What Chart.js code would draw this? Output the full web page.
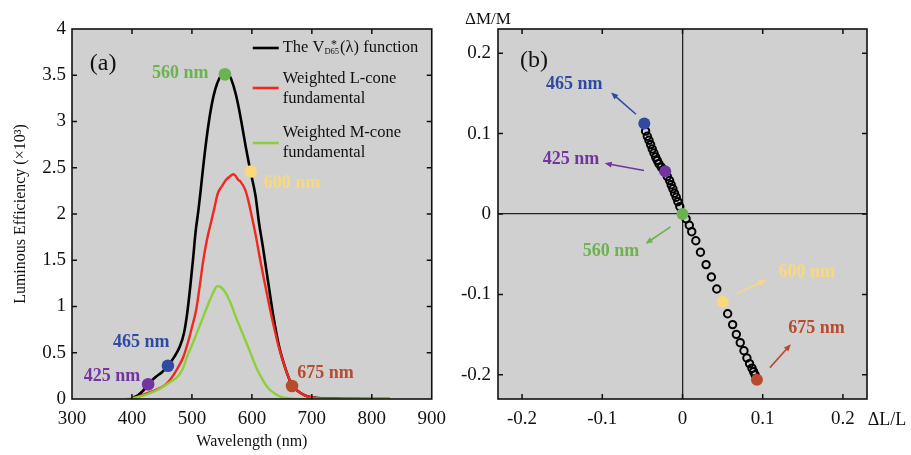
<!DOCTYPE html>
<html>
<head>
<meta charset="utf-8">
<script src="https://cdn.jsdelivr.net/npm/chart.js@4.4.1/dist/chart.umd.min.js"></script>
<style>
html, body { margin: 0; padding: 0; background: #fff; }
#wrap { position: relative; width: 911px; height: 455px; }
#cA { position: absolute; left: 0; top: 0; }
#cB { position: absolute; left: 455px; top: 0; }
</style>
</head>
<body>
<div id="wrap">
<canvas id="cA" width="455" height="455"></canvas>
<canvas id="cB" width="456" height="455"></canvas>
</div>
<script>
// panel (a) curves, wavelength (nm) vs luminous efficiency (x10^3)
const wlBlack = [400, 410, 420, 430, 440, 450, 460, 470, 480, 487, 492, 497, 502, 506, 511, 515, 520, 527, 533, 539, 546, 552, 557, 562, 566, 573, 579, 584, 590, 597, 606, 612, 618, 624, 630, 636, 645, 657, 667, 680, 692, 710, 750, 830];
const vBlack = [0.01, 0.04, 0.10, 0.18, 0.24, 0.29, 0.36, 0.45, 0.57, 0.72, 0.92, 1.2, 1.52, 1.80, 2.05, 2.28, 2.58, 2.94, 3.18, 3.35, 3.47, 3.52, 3.52, 3.50, 3.45, 3.30, 3.12, 2.94, 2.72, 2.48, 2.20, 1.90, 1.66, 1.40, 1.14, 0.89, 0.58, 0.31, 0.15, 0.07, 0.03, 0.01, 0.003, 0];

const wlRed = [405, 420, 440, 455, 465, 475, 486, 495, 501, 507, 513, 519, 525, 530, 537, 543, 550, 557, 564, 569, 573, 577, 581, 589, 595, 600, 607, 614, 620, 625, 633, 645, 657, 667, 680, 692, 710, 750, 830];
const vRed = [0.01, 0.05, 0.10, 0.15, 0.22, 0.32, 0.46, 0.65, 0.80, 0.96, 1.22, 1.50, 1.72, 1.86, 2.05, 2.22, 2.30, 2.37, 2.41, 2.43, 2.41, 2.37, 2.35, 2.26, 2.12, 1.97, 1.75, 1.50, 1.30, 1.14, 0.89, 0.56, 0.31, 0.15, 0.07, 0.03, 0.01, 0.003, 0];

const wlGreen = [390, 400, 420, 440, 454, 465, 476, 485, 492, 500, 508, 519, 530, 537, 542, 548, 557, 565, 573, 580, 587, 600, 608, 617, 627, 638, 650, 660, 700, 830];
const vGreen = [0, 0.01, 0.04, 0.09, 0.14, 0.19, 0.24, 0.33, 0.46, 0.58, 0.71, 0.89, 1.07, 1.17, 1.22, 1.21, 1.14, 1.03, 0.89, 0.78, 0.67, 0.46, 0.33, 0.22, 0.12, 0.06, 0.02, 0.01, 0, 0];

// highlighted wavelengths
const markNames = ['425 nm', '465 nm', '560 nm', '600 nm', '675 nm'];
const markColors = ['#7334a0', '#2f4aa0', '#6bb34f', '#fbd87c', '#b84a2e'];
const markWl = [427, 460, 555, 598, 667];
const markV = [0.16, 0.36, 3.51, 2.46, 0.14];

const xTicksA = [300, 400, 500, 600, 700, 800, 900];
const yTicksA = [0, 0.5, 1, 1.5, 2, 2.5, 3, 3.5, 4];

// panel (b) cone contrasts
const dL = [-0.046, -0.0439, -0.0418, -0.0398, -0.0377, -0.0356, -0.0335, -0.0315, -0.0294, -0.0265, -0.024, -0.019, -0.0161, -0.0141, -0.012, -0.0099, -0.0078, -0.0058, -0.0034, 0.0045, 0.0085, 0.0115, 0.0166, 0.0224, 0.0294, 0.036, 0.0427, 0.0563, 0.0625, 0.0671, 0.072, 0.0766, 0.0803, 0.0836, 0.0866, 0.0886, 0.0905];
const dM = [0.103, 0.0967, 0.0917, 0.0863, 0.0808, 0.0758, 0.0708, 0.0667, 0.0625, 0.0583, 0.055, 0.0467, 0.0417, 0.0363, 0.0313, 0.0258, 0.0208, 0.0154, 0.0092, -0.006, -0.014, -0.022, -0.0333, -0.0475, -0.0629, -0.0783, -0.0933, -0.124, -0.1375, -0.1496, -0.160, -0.170, -0.179, -0.186, -0.1917, -0.196, -0.200];
const markDL = [-0.0215, -0.0476, 0, 0.0501, 0.0928];
const markDM = [0.053, 0.1125, 0, -0.109, -0.206];

const xTicksB = [-0.2, -0.1, 0, 0.1, 0.2];
const yTicksB = [-0.2, -0.1, 0, 0.1, 0.2];

const SERIF = '"Liberation Serif", "Times New Roman", serif';
Chart.defaults.font.family = SERIF;
Chart.defaults.color = '#111';

const pts = (xs, ys) => xs.map((v, i) => ({x: v, y: ys[i]}));
const setTicks = arr => s => { s.ticks = arr.map(v => ({value: v})); };

const frame = {
  id: 'frame',
  beforeDraw(chart) {
    const {ctx, chartArea: a} = chart;
    ctx.save();
    ctx.fillStyle = '#d0d0d0';
    ctx.fillRect(a.left, a.top, a.width, a.height);
    ctx.restore();
  },
  afterDraw(chart, args, opts) {
    const {ctx, chartArea: a, scales: {x, y}} = chart;
    ctx.save();
    ctx.strokeStyle = '#111';
    ctx.lineWidth = 1.5;
    ctx.beginPath();
    x.ticks.forEach(t => {
      const p = x.getPixelForValue(t.value);
      if (p <= a.left + 1 || p >= a.right - 1) return;
      ctx.moveTo(p, a.bottom); ctx.lineTo(p, a.bottom - 5);
      ctx.moveTo(p, a.top); ctx.lineTo(p, a.top + 5);
    });
    y.ticks.forEach(t => {
      const p = y.getPixelForValue(t.value);
      if (p <= a.top + 1 || p >= a.bottom - 1) return;
      ctx.moveTo(a.left, p); ctx.lineTo(a.left + 5, p);
      ctx.moveTo(a.right, p); ctx.lineTo(a.right - 5, p);
    });
    ctx.stroke();
    ctx.lineWidth = 1.6;
    ctx.strokeRect(a.left, a.top, a.width, a.height);

    (opts.arrows || []).forEach(ar => {
      const x1 = x.getPixelForValue(ar.from[0]), y1 = y.getPixelForValue(ar.from[1]);
      const x2 = x.getPixelForValue(ar.to[0]), y2 = y.getPixelForValue(ar.to[1]);
      const ang = Math.atan2(y2 - y1, x2 - x1);
      ctx.strokeStyle = ar.color;
      ctx.fillStyle = ar.color;
      ctx.lineWidth = 1.6;
      ctx.beginPath(); ctx.moveTo(x1, y1); ctx.lineTo(x2 - 4 * Math.cos(ang), y2 - 4 * Math.sin(ang)); ctx.stroke();
      ctx.beginPath();
      ctx.moveTo(x2, y2);
      ctx.lineTo(x2 - 7 * Math.cos(ang) + 3 * Math.sin(ang), y2 - 7 * Math.sin(ang) - 3 * Math.cos(ang));
      ctx.lineTo(x2 - 7 * Math.cos(ang) - 3 * Math.sin(ang), y2 - 7 * Math.sin(ang) + 3 * Math.cos(ang));
      ctx.closePath(); ctx.fill();
    });

    ctx.textAlign = 'center';
    ctx.textBaseline = 'middle';
    (opts.labels || []).forEach(l => {
      ctx.font = l.font;
      ctx.fillStyle = l.color;
      ctx.fillText(l.text, x.getPixelForValue(l.at[0]), y.getPixelForValue(l.at[1]));
    });
    if (opts.extra) opts.extra(chart, ctx);
    ctx.restore();
  }
};

const bold = 'bold 18px ' + SERIF;
const big = '24px ' + SERIF;

// ---------- panel (a)
new Chart(document.getElementById('cA'), {
  type: 'scatter',
  data: {
    datasets: [
      {data: pts(markWl, markV), pointRadius: 6.3, pointBackgroundColor: markColors, pointBorderWidth: 0},
      {data: pts(wlGreen, vGreen), showLine: true, borderColor: '#8dcf3a', borderWidth: 2.4, pointRadius: 0, cubicInterpolationMode: 'monotone'},
      {data: pts(wlRed, vRed), showLine: true, borderColor: '#f0281e', borderWidth: 2.4, pointRadius: 0, cubicInterpolationMode: 'monotone'},
      {data: pts(wlBlack, vBlack), showLine: true, borderColor: '#000', borderWidth: 2.6, pointRadius: 0, cubicInterpolationMode: 'monotone'}
    ]
  },
  options: {
    responsive: false,
    animation: false,
    devicePixelRatio: 1,
    events: [],
    layout: {padding: {top: 29, right: 14, left: 0, bottom: 0}},
    scales: {
      x: {
        type: 'linear', min: 300, max: 900,
        afterBuildTicks: setTicks(xTicksA),
        afterFit: s => { s.height = 56; },
        grid: {display: false, drawTicks: false},
        border: {display: false},
        ticks: {padding: 9, font: {size: 19}, color: '#111', maxRotation: 0, callback: v => String(v)},
        title: {display: true, text: 'Wavelength (nm)', font: {size: 16}, color: '#111', padding: {top: 0, bottom: 3.4}}
      },
      y: {
        min: 0, max: 4,
        afterBuildTicks: setTicks(yTicksA),
        afterFit: s => { s.width = 72; },
        grid: {display: false, drawTicks: false},
        border: {display: false},
        ticks: {padding: 6, font: {size: 19}, color: '#111', callback: v => String(v)},
        title: {display: true, text: 'Luminous Efficiency (×10³)', font: {size: 16}, color: '#111', padding: {top: 11, bottom: 0}}
      }
    },
    plugins: {
      legend: {display: false},
      tooltip: {enabled: false},
      frame: {
        labels: [
          {text: '(a)', at: [352, 3.62], font: big, color: '#111'},
          {text: markNames[0], at: [366.7, 0.25], font: bold, color: markColors[0]},
          {text: markNames[1], at: [415.4, 0.61], font: bold, color: markColors[1]},
          {text: markNames[2], at: [480.5, 3.52], font: bold, color: markColors[2]},
          {text: markNames[3], at: [667, 2.33], font: bold, color: markColors[3]},
          {text: markNames[4], at: [722.8, 0.28], font: bold, color: markColors[4]}
        ],
        extra(chart, ctx) {
          const a = chart.chartArea;
          const lx0 = a.right - 179, lx1 = a.right - 153, tx = a.right - 149;
          const rows = [['#000', 19], ['#f0281e', 59], ['#8dcf3a', 114]];
          ctx.lineWidth = 2.6;
          rows.forEach(r => {
            ctx.strokeStyle = r[0];
            ctx.beginPath(); ctx.moveTo(lx0, a.top + r[1]); ctx.lineTo(lx1, a.top + r[1]); ctx.stroke();
          });
          ctx.fillStyle = '#111';
          ctx.textAlign = 'left';
          ctx.textBaseline = 'middle';
          const f = '16.5px ' + SERIF;
          ctx.font = f;
          let ty = a.top + 19;
          ctx.fillText('The V', tx, ty);
          let cx = tx + ctx.measureText('The V').width;
          ctx.font = '8.5px ' + SERIF;
          ctx.fillText('D65', cx, ty + 4);
          const ws = ctx.measureText('D65').width;
          ctx.font = '12px ' + SERIF;
          ctx.fillText('*', cx + ws * 0.45, ty - 3);
          cx += ws + 1;
          ctx.font = f;
          ctx.fillText('(λ) function', cx, ty);
          ctx.fillText('Weighted L-cone', tx, a.top + 50);
          ctx.fillText('fundamental', tx, a.top + 70);
          ctx.fillText('Weighted M-cone', tx, a.top + 104);
          ctx.fillText('fundamental', tx, a.top + 124);
        }
      }
    }
  },
  plugins: [frame]
});

// ---------- panel (b)
new Chart(document.getElementById('cB'), {
  type: 'scatter',
  data: {
    datasets: [
      {data: pts(markDL, markDM), pointRadius: 6, pointBackgroundColor: markColors, pointBorderWidth: 0},
      {data: pts(dL, dM), pointRadius: 3.7, pointBorderWidth: 2, pointBorderColor: '#000', pointBackgroundColor: 'rgba(0,0,0,0)'}
    ]
  },
  options: {
    responsive: false,
    animation: false,
    devicePixelRatio: 1,
    events: [],
    layout: {padding: {top: 29, right: 44, left: 0, bottom: 0}},
    scales: {
      x: {
        type: 'linear', min: -0.23, max: 0.23,
        afterBuildTicks: setTicks(xTicksB),
        afterFit: s => { s.height = 56; },
        grid: {drawTicks: false, lineWidth: 1.3, color: c => (c.tick && c.tick.value === 0 ? '#222' : 'rgba(0,0,0,0)')},
        border: {display: false},
        ticks: {padding: 9, font: {size: 19}, color: '#111', maxRotation: 0, callback: v => String(v)}
      },
      y: {
        min: -0.23, max: 0.23,
        afterBuildTicks: setTicks(yTicksB),
        afterFit: s => { s.width = 43; },
        grid: {drawTicks: false, lineWidth: 1.3, color: c => (c.tick && c.tick.value === 0 ? '#222' : 'rgba(0,0,0,0)')},
        border: {display: false},
        ticks: {padding: 7, font: {size: 19}, color: '#111', callback: v => String(v)}
      }
    },
    plugins: {
      legend: {display: false},
      tooltip: {enabled: false},
      frame: {
        arrows: [
          {from: [-0.058, 0.124], to: [-0.089, 0.151], color: markColors[1]},
          {from: [-0.048, 0.054], to: [-0.097, 0.063], color: markColors[0]},
          {from: [-0.015, -0.016], to: [-0.046, -0.037], color: markColors[2]},
          {from: [0.068, -0.099], to: [0.104, -0.082], color: markColors[3]},
          {from: [0.109, -0.191], to: [0.135, -0.162], color: markColors[4]}
        ],
        labels: [
          {text: '(b)', at: [-0.185, 0.19], font: big, color: '#111'},
          {text: markNames[1], at: [-0.135, 0.161], font: bold, color: markColors[1]},
          {text: markNames[0], at: [-0.139, 0.0675], font: bold, color: markColors[0]},
          {text: markNames[2], at: [-0.089, -0.047], font: bold, color: markColors[2]},
          {text: markNames[3], at: [0.155, -0.073], font: bold, color: markColors[3]},
          {text: markNames[4], at: [0.167, -0.142], font: bold, color: markColors[4]}
        ],
        extra(chart, ctx) {
          const a = chart.chartArea;
          ctx.fillStyle = '#111';
          ctx.textAlign = 'center';
          ctx.textBaseline = 'middle';
          ctx.font = '17px ' + SERIF;
          ctx.fillText('ΔM/M', a.left - 10, a.top - 9);
          ctx.font = '18px ' + SERIF;
          ctx.fillText('ΔL/L', a.right + 20, a.bottom + 21);
        }
      }
    }
  },
  plugins: [frame]
});
</script>
</body>
</html>
